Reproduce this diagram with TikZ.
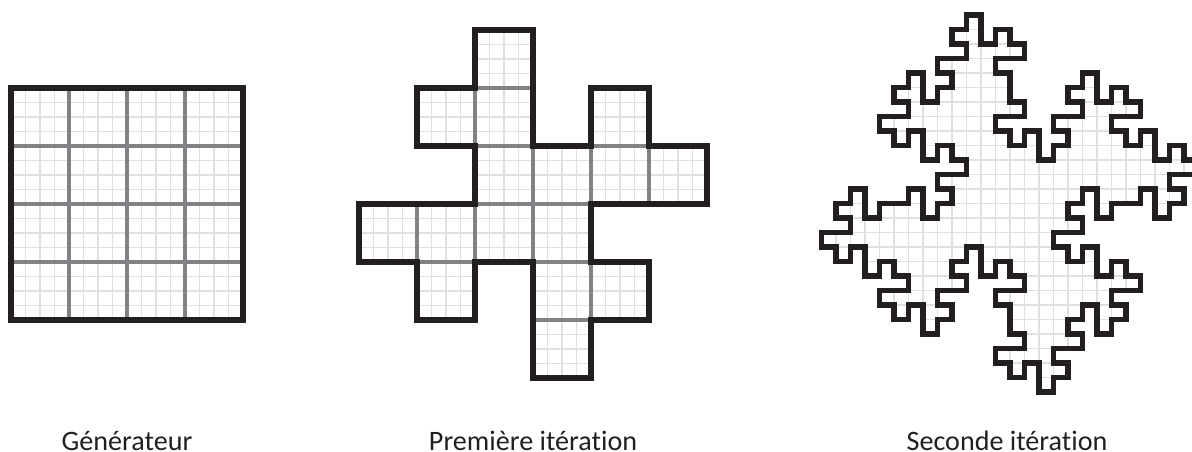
\documentclass[tikz,border=0pt]{standalone}
\usepackage{fontspec}
\setmainfont[Ligatures=NoCommon]{Carlito}
\usepackage{tikz}
\definecolor{inkblack}{HTML}{231F20}
\definecolor{midgray}{HTML}{808285}
\definecolor{fingray}{HTML}{DFE0E1}
% one turn of the boundary, read clockwise: 0 right, 1 down, 2 left, 3 up
\newcommand{\firstturn}{0,1,1,0,3,0,1,0}
\newcommand{\secondturn}{0,1,1,0,3,0,1,0,1,2,2,1,0,1,1,0,1,2,2,1,0,1,0,3,0,1,1,0,3,0,3,2,3,0,0,3,2,3,0,3,0,1,1,0,3,0,1,0,1,2,2,1,0,1,0,3,0,1,1,0,3,0,1,0}
\newcommand{\islandpath}[1]{\foreach \k in {0,1,2,3}{\foreach \d in #1{ -- ++({90*(\d+\k)}:1)}} -- cycle}

\begin{document}
\begin{tikzpicture}[x=0.02cm,y=-0.02cm,
        finegrid/.style={draw=fingray, line width=0.7pt},
        cellgrid/.style={draw=midgray, line width=1.8pt},
        outline/.style={draw=inkblack, line width=2.9pt, line join=miter},
        caption/.style={font=\fontsize{16}{19}\selectfont, text=inkblack, anchor=base, inner sep=0pt}
    ]
        \useasboundingbox (0,0) rectangle (1192,452);
        % generateur
        \begin{scope}[shift={(11,88)},scale=14.5]
            \foreach \p in {0,...,16} \draw[finegrid] (\p,0) -- (\p,16) (0,\p) -- (16,\p);
            \foreach \p in {4,8,12} \draw[cellgrid] (\p,0) -- (\p,16) (0,\p) -- (16,\p);
            \draw[outline] (0,0) rectangle (16,16);
        \end{scope}
        % premiere iteration
        \begin{scope}[shift={(475,30)},scale=58]
            \begin{scope}
                \clip (0,0) \islandpath{\firstturn};
                \foreach \p in {-2,-1.75,...,4} \draw[finegrid] (\p,0) -- (\p,6);
                \foreach \p in {0,0.25,...,6} \draw[finegrid] (-2,\p) -- (4,\p);
                \foreach \p in {-2,...,4} \draw[cellgrid] (\p,0) -- (\p,6);
                \foreach \p in {0,...,6} \draw[cellgrid] (-2,\p) -- (4,\p);
            \end{scope}
            \draw[outline] (0,0) \islandpath{\firstturn};
        \end{scope}
        % seconde iteration
        \begin{scope}[shift={(966.5,15)},scale=14.5]
            \begin{scope}
                \clip (0,0) \islandpath{\secondturn};
                \foreach \p in {-10,...,16} \draw[finegrid] (\p,0) -- (\p,26);
                \foreach \p in {0,...,26} \draw[finegrid] (-10,\p) -- (16,\p);
            \end{scope}
            \draw[outline] (0,0) \islandpath{\secondturn};
        \end{scope}
        \node[caption] (gen) at (127,450.5) {Générateur};
        \node[caption] (first) at (533,450.5) {Première itération};
        \node[caption] (second) at (1007,450.5) {Seconde itération};
    \end{tikzpicture}
\end{document}
